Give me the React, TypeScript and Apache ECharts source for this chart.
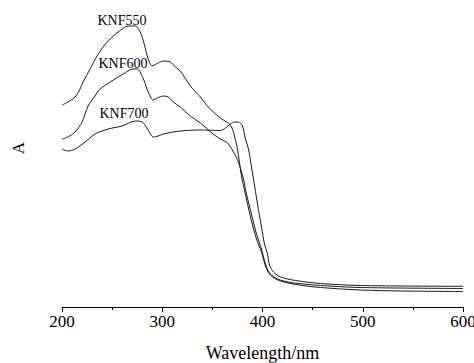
import React, { useEffect, useRef } from "react";
import * as echarts from "echarts";

const knf550Wl = [200, 206, 213, 218, 221, 228, 235, 241, 248, 256, 266, 273, 278, 282, 286, 290, 294, 301, 308, 313, 318, 328, 338, 345, 351, 358, 364, 368, 371, 375, 379, 384, 389, 394, 399, 402, 405, 410, 418, 433, 458, 498, 538, 600];
const knf550A = [2.02, 2.05, 2.1, 2.18, 2.25, 2.38, 2.51, 2.6, 2.68, 2.75, 2.81, 2.81, 2.75, 2.63, 2.48, 2.41, 2.43, 2.46, 2.45, 2.4, 2.36, 2.21, 2.1, 2.01, 1.95, 1.89, 1.85, 1.82, 1.75, 1.58, 1.31, 1.08, 0.86, 0.68, 0.55, 0.44, 0.36, 0.3, 0.26, 0.225, 0.195, 0.17, 0.16, 0.155];

const knf600Wl = [200, 206, 213, 220, 226, 233, 236, 242, 248, 261, 271, 275, 278, 282, 286, 291, 295, 301, 306, 311, 318, 328, 338, 345, 352, 358, 365, 371, 376, 381, 384, 389, 394, 399, 401, 404, 408, 415, 428, 458, 498, 600];
const knf600A = [1.68, 1.7, 1.75, 1.85, 2.01, 2.11, 2.16, 2.21, 2.25, 2.33, 2.38, 2.38, 2.35, 2.26, 2.15, 2.07, 2.09, 2.11, 2.1, 2.05, 2.0, 1.91, 1.84, 1.78, 1.72, 1.68, 1.64, 1.55, 1.45, 1.28, 1.13, 0.93, 0.73, 0.58, 0.5, 0.4, 0.33, 0.28, 0.245, 0.215, 0.195, 0.185];

const knf700Wl = [200, 206, 213, 223, 233, 246, 260, 273, 280, 286, 291, 296, 301, 318, 338, 358, 363, 368, 372, 376, 380, 383, 386, 389, 391, 395, 399, 402, 405, 407, 411, 418, 433, 458, 498, 600];
const knf700A = [1.58, 1.56, 1.58, 1.65, 1.73, 1.78, 1.81, 1.86, 1.85, 1.77, 1.7, 1.71, 1.73, 1.76, 1.77, 1.765, 1.79, 1.83, 1.85, 1.85, 1.81, 1.68, 1.58, 1.4, 1.28, 1.03, 0.8, 0.63, 0.53, 0.42, 0.35, 0.3, 0.265, 0.235, 0.215, 0.207];

const seriesNames = ["KNF550", "KNF600", "KNF700"];
const xTicks = [200, 300, 400, 500, 600];

const zip = (xs: number[], ys: number[]) => xs.map((x, i) => [x, ys[i]]);

const FONT = "'Liberation Serif', 'Times New Roman', serif";

export default function App() {
  const ref = useRef<HTMLDivElement>(null);
  useEffect(() => {
    document.body.style.margin = "0";
    document.body.style.overflow = "hidden";
    if (!ref.current) return;
    const chart = echarts.init(ref.current, null, { renderer: "svg" });
    const lineStyle = { color: "#1a1a1a", width: 1 };
    const mk = (name: string, xs: number[], ys: number[]) => ({
      name,
      type: "line",
      data: zip(xs, ys),
      smooth: 0.3,
      showSymbol: false,
      lineStyle,
      itemStyle: { color: "#1a1a1a" },
    });
    chart.setOption({
      animation: false,
      grid: { left: 62, right: 11, top: 7, bottom: 56, containLabel: false, outerBoundsMode: "none" },
      xAxis: {
        type: "value",
        min: xTicks[0],
        max: xTicks[xTicks.length - 1],
        interval: 100,
        name: "Wavelength/nm",
        nameLocation: "middle",
        nameGap: 37,
        nameTextStyle: { fontFamily: FONT, fontSize: 18, lineHeight: 18, color: "#000" },
        axisLine: { lineStyle: { color: "#000", width: 1 } },
        axisTick: { show: true, inside: false, length: 5, lineStyle: { color: "#000" } },
        minorTick: { show: true, splitNumber: 2, length: 3, lineStyle: { color: "#000" } },
        axisLabel: { fontFamily: FONT, fontSize: 17, lineHeight: 17, color: "#000", margin: 6 },
        splitLine: { show: false },
      },
      yAxis: {
        type: "value",
        min: 0,
        max: 3,
        show: false,
      },
      graphic: [
        { type: "text", x: 18, y: 148, rotation: Math.PI / 2, style: { text: "A", fontFamily: FONT, fontSize: 17, fill: "#000", align: "center", verticalAlign: "middle" } },
        { type: "text", x: 122, y: 20, style: { text: seriesNames[0], fontFamily: FONT, fontSize: 14, fill: "#000", align: "center", verticalAlign: "middle" } },
        { type: "text", x: 123, y: 63, style: { text: seriesNames[1], fontFamily: FONT, fontSize: 14, fill: "#000", align: "center", verticalAlign: "middle" } },
        { type: "text", x: 124, y: 113, style: { text: seriesNames[2], fontFamily: FONT, fontSize: 14, fill: "#000", align: "center", verticalAlign: "middle" } },
      ],
      series: [
        mk(seriesNames[0], knf550Wl, knf550A),
        mk(seriesNames[1], knf600Wl, knf600A),
        mk(seriesNames[2], knf700Wl, knf700A),
      ],
    });
    return () => chart.dispose();
  }, []);
  return <div ref={ref} style={{ width: 474, height: 363, overflow: "hidden" }} />;
}
